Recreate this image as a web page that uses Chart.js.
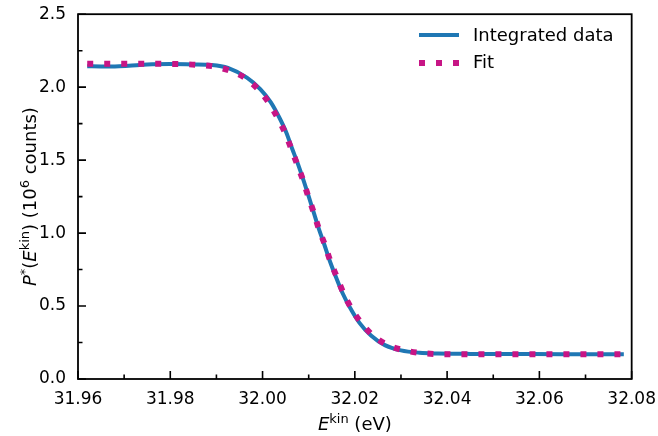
<!DOCTYPE html>
<html>
<head>
<meta charset="utf-8">
<script src="https://cdn.jsdelivr.net/npm/chart.js@4"></script>
<style>body{margin:0;background:#fff}</style>
</head>
<body>
<canvas id="chart" width="658" height="436"></canvas>
<script>
// Integrated data
const dataX = [31.962, 31.965, 31.968, 31.971, 31.975, 31.980, 31.985, 31.989, 31.9925, 31.9966,
  31.9995, 32.0018, 32.0036, 32.0051, 32.0064, 32.0077, 32.0089, 32.0100, 32.0111, 32.0122,
  32.0134, 32.0146, 32.0159, 32.0173, 32.0190, 32.0210, 32.0235, 32.0265, 32.0300, 32.0340,
  32.0380, 32.0450, 32.0550, 32.0650, 32.0783];
const dataY = [2.144, 2.142, 2.141, 2.146, 2.155, 2.158, 2.156, 2.152, 2.132, 2.065,
  1.987, 1.896, 1.794, 1.693, 1.580, 1.471, 1.360, 1.251, 1.140, 1.029,
  0.920, 0.807, 0.699, 0.591, 0.486, 0.385, 0.298, 0.232, 0.196, 0.180,
  0.175, 0.172, 0.171, 0.170, 0.170];

// Fit
const fitX = [31.962, 31.967, 31.972, 31.978, 31.982, 31.9855, 31.989, 31.9928, 31.9961, 31.999,
  32.0013, 32.0032, 32.0048, 32.0062, 32.0075, 32.0088, 32.0099, 32.0111, 32.0122, 32.0135,
  32.0147, 32.0161, 32.0175, 32.0192, 32.0213, 32.0238, 32.0269, 32.0305, 32.0341, 32.0378,
  32.045, 32.060, 32.078];
const fitY = [2.161, 2.161, 2.161, 2.160, 2.158, 2.154, 2.144, 2.114, 2.065, 1.987,
  1.896, 1.794, 1.693, 1.580, 1.471, 1.360, 1.251, 1.140, 1.029, 0.920,
  0.807, 0.699, 0.591, 0.486, 0.388, 0.302, 0.236, 0.198, 0.179, 0.171,
  0.170, 0.170, 0.170];

const xTicks = [31.96, 31.98, 32.00, 32.02, 32.04, 32.06, 32.08];
const xMinor = [31.97, 31.99, 32.01, 32.03, 32.05, 32.07];
const yTicks = [0.0, 0.5, 1.0, 1.5, 2.0, 2.5];
const yMinor = [0.25, 0.75, 1.25, 1.75, 2.25];

const blue = '#1f77b4';
const pink = '#c71585';
const FONT = '"DejaVu Sans", sans-serif';

function toPoints(xs, ys) {
  return xs.map((v, i) => ({ x: v, y: ys[i] }));
}

// draw text made of normal / italic / superscript parts
function richWidth(ctx, parts) {
  let w = 0;
  parts.forEach(p => {
    ctx.font = (p.i ? 'italic ' : '') + (p.sup ? 13 : 18) + 'px ' + FONT;
    w += ctx.measureText(p.t).width;
  });
  return w;
}
function drawRich(ctx, parts, x, y) {
  parts.forEach(p => {
    ctx.font = (p.i ? 'italic ' : '') + (p.sup ? 13 : 18) + 'px ' + FONT;
    ctx.fillText(p.t, x, p.sup ? y - 7.5 : y);
    x += ctx.measureText(p.t).width;
  });
}

const decor = {
  id: 'decor',
  afterDraw(chart) {
    const { ctx, chartArea: a, scales: { x, y } } = chart;
    ctx.save();
    ctx.strokeStyle = '#000';
    ctx.lineWidth = 1.8;
    ctx.strokeRect(a.left, a.top, a.right - a.left, a.bottom - a.top);

    // inward ticks
    ctx.lineWidth = 1.6;
    ctx.beginPath();
    xTicks.forEach(v => { const p = x.getPixelForValue(v); ctx.moveTo(p, a.bottom); ctx.lineTo(p, a.bottom - 8); });
    xMinor.forEach(v => { const p = x.getPixelForValue(v); ctx.moveTo(p, a.bottom); ctx.lineTo(p, a.bottom - 4.5); });
    yTicks.forEach(v => { const p = y.getPixelForValue(v); ctx.moveTo(a.left, p); ctx.lineTo(a.left + 8, p); });
    yMinor.forEach(v => { const p = y.getPixelForValue(v); ctx.moveTo(a.left, p); ctx.lineTo(a.left + 4.5, p); });
    ctx.stroke();

    // legend
    ctx.lineCap = 'butt';
    ctx.strokeStyle = blue;
    ctx.lineWidth = 4;
    ctx.beginPath(); ctx.moveTo(419, 35); ctx.lineTo(459, 35); ctx.stroke();
    ctx.strokeStyle = pink;
    ctx.lineWidth = 6;
    ctx.setLineDash([6, 11]);
    ctx.beginPath(); ctx.moveTo(419, 63); ctx.lineTo(459, 63); ctx.stroke();
    ctx.setLineDash([]);
    ctx.fillStyle = '#000';
    ctx.font = '18px ' + FONT;
    ctx.textBaseline = 'middle';
    ctx.fillText('Integrated data', 473, 36);
    ctx.fillText('Fit', 473, 63);

    // axis titles
    ctx.textBaseline = 'alphabetic';
    const xt = [{ t: 'E', i: true }, { t: 'kin', sup: true }, { t: ' (eV)' }];
    const cx = (a.left + a.right) / 2;
    drawRich(ctx, xt, cx - richWidth(ctx, xt) / 2, 430);

    const yt = [{ t: 'P', i: true }, { t: '*', sup: true }, { t: '(' }, { t: 'E', i: true },
      { t: 'kin', sup: true }, { t: ') (10' }, { t: '6', sup: true }, { t: ' counts)' }];
    ctx.translate(36, (a.top + a.bottom) / 2);
    ctx.rotate(-Math.PI / 2);
    drawRich(ctx, yt, -richWidth(ctx, yt) / 2, 0);
    ctx.restore();
  }
};

new Chart(document.getElementById('chart'), {
  type: 'line',
  data: {
    datasets: [
      {
        label: 'Integrated data',
        data: toPoints(dataX, dataY),
        borderColor: blue,
        borderWidth: 4,
        pointRadius: 0,
        cubicInterpolationMode: 'monotone',
        order: 2
      },
      {
        label: 'Fit',
        data: toPoints(fitX, fitY),
        borderColor: pink,
        borderWidth: 6,
        borderDash: [6, 11],
        borderCapStyle: 'butt',
        pointRadius: 0,
        cubicInterpolationMode: 'monotone',
        order: 1
      }
    ]
  },
  options: {
    responsive: false,
    animation: false,
    devicePixelRatio: 1,
    layout: { padding: { top: 8, right: 22, left: 0, bottom: 0 } },
    plugins: { legend: { display: false }, tooltip: { enabled: false } },
    scales: {
      x: {
        type: 'linear',
        min: 31.96,
        max: 32.08,
        grid: { display: false },
        border: { display: false },
        afterBuildTicks: s => { s.ticks = xTicks.map(v => ({ value: v })); },
        afterFit: s => { s.height = 57; },
        ticks: {
          autoSkip: false,
          maxRotation: 0,
          padding: 2,
          color: '#000',
          font: { family: FONT, size: 17 },
          callback: v => v.toFixed(2)
        }
      },
      y: {
        min: 0,
        max: 2.5,
        grid: { display: false },
        border: { display: false },
        afterBuildTicks: s => { s.ticks = yTicks.map(v => ({ value: v })); },
        afterFit: s => { s.width = 78; },
        ticks: {
          padding: 4,
          color: '#000',
          font: { family: FONT, size: 17 },
          callback: v => v.toFixed(1)
        }
      }
    }
  },
  plugins: [decor]
});
</script>
</body>
</html>
